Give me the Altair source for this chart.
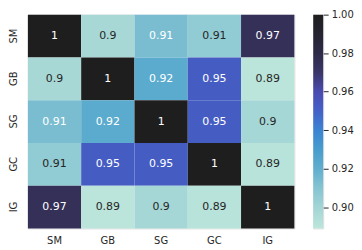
import altair as alt
import pandas as pd

names = ["SM", "GB", "SG", "GC", "IG"]
matrix = [
    [1.000, 0.898, 0.913, 0.906, 0.975],
    [0.898, 1.000, 0.922, 0.952, 0.890],
    [0.913, 0.922, 1.000, 0.952, 0.899],
    [0.906, 0.952, 0.952, 1.000, 0.891],
    [0.975, 0.890, 0.899, 0.891, 1.000],
]
cmap_values = [0.889, 0.90, 0.91, 0.92, 0.93, 0.94, 0.95, 0.96, 0.97, 0.98, 0.99, 1.00]
cmap_colors = ["#bde6db", "#a3d5d5", "#85c4d2", "#60aece", "#479dcd", "#3a84d2",
               "#4461c8", "#4a4bb0", "#3a3668", "#2d2a48", "#252430", "#1f1e1f"]
cbar_ticks = [0.90, 0.92, 0.94, 0.96, 0.98, 1.00]

rows = []
for i, r in enumerate(names):
    for j, c in enumerate(names):
        rows.append({"row": r, "col": c, "value": matrix[i][j]})
df = pd.DataFrame(rows)

vmin, vmax = cmap_values[0], cmap_values[-1]
color_scale = alt.Scale(domain=cmap_values, range=cmap_colors, interpolate="rgb")

H = 215

base = alt.Chart(df).encode(
    x=alt.X("col:N", sort=names, title=None,
            axis=alt.Axis(labelAngle=0, ticks=False, domain=False, labelPadding=7,
                          labelFontSize=10, labelColor="#262626")),
    y=alt.Y("row:N", sort=names, title=None,
            axis=alt.Axis(labelAngle=-90, ticks=False, domain=False, labelPadding=9,
                          labelFontSize=10, labelColor="#262626")),
)
rects = base.mark_rect(stroke=None).encode(
    color=alt.Color("value:Q", scale=color_scale, legend=None)
)
texts = base.mark_text(fontSize=11, font="DejaVu Sans").encode(
    text=alt.Text("value:Q", format=".2~f"),
    color=alt.condition("datum.value > 0.91", alt.value("#ffffff"), alt.value("#262626")),
)
heat = (rects + texts).properties(width=268, height=H)

stops = [alt.GradientStop(offset=(v - vmin) / (vmax - vmin), color=c)
         for v, c in zip(cmap_values, cmap_colors)]
cb_df = pd.DataFrame({"lo": [vmin], "hi": [vmax]})
cbar = alt.Chart(cb_df).mark_rect(
    color=alt.Gradient(gradient="linear", stops=stops, x1=0, x2=0, y1=1, y2=0)
).encode(
    x=alt.value(0), x2=alt.value(10),
    y=alt.Y("lo:Q", scale=alt.Scale(domain=[vmin, vmax], nice=False, zero=False), title=None,
            axis=alt.Axis(orient="right", values=cbar_ticks, format=".2f", tickSize=5,
                          tickColor="#262626", labelPadding=3, domain=False, grid=False,
                          labelFontSize=10, labelColor="#262626")),
    y2="hi",
).properties(width=10, height=H)

chart = alt.hconcat(heat, cbar, spacing=17).properties(
    padding={"left": 0, "top": 0, "right": 0, "bottom": 0}
).configure_view(stroke=None).configure(font="DejaVu Sans")

chart.save("out.html", embed_options={"renderer": "svg", "actions": False})
